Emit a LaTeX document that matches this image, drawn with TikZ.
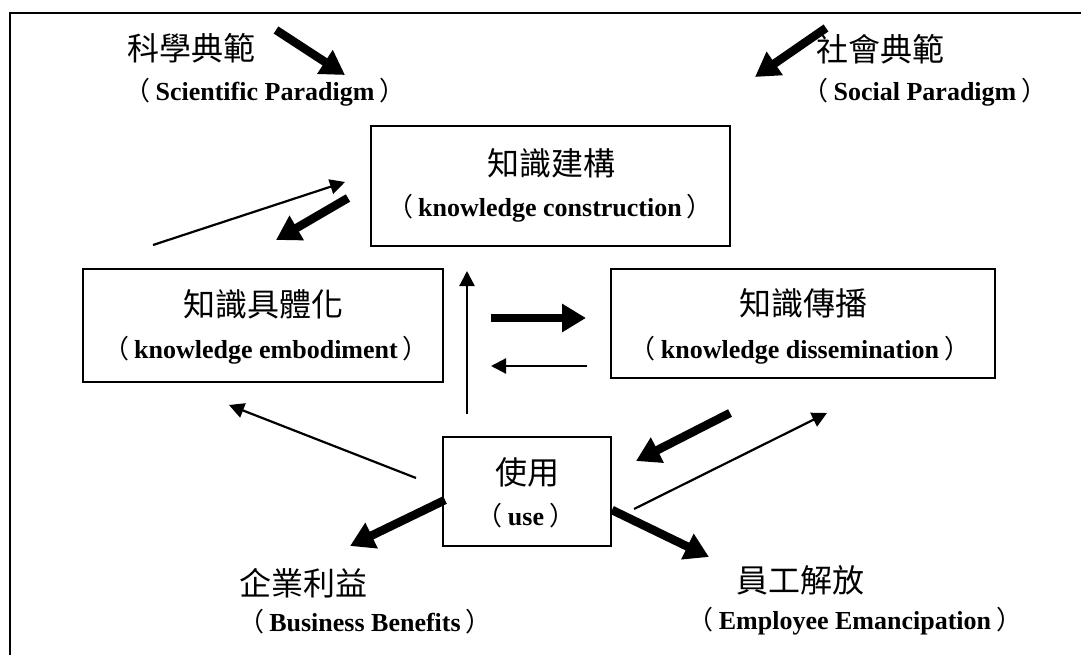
\documentclass[tikz,border=0pt]{standalone}
\usepackage{fontspec}
\setmainfont{Liberation Serif}
\newfontfamily\cjk{Noto Sans CJK TC}
\usetikzlibrary{arrows.meta}

% full-width brackets set in the CJK face, regular weight, with a little air
\newcommand\zlp{{\cjk\mdseries （}\hspace{5pt}}
\newcommand\zrp{\hspace{5pt}{\cjk\mdseries ）}}

\tikzset{
  frameline/.style={line width=1.8pt},
  box/.style={draw, line width=1.8pt, inner sep=0pt},
  zh/.style={anchor=base, inner sep=0pt, font=\cjk\fontsize{32}{38}\selectfont},
  en/.style={anchor=base, inner sep=0pt, font=\fontsize{26}{31}\selectfont\bfseries},
  thinarrow/.style={line width=2.2pt, -{Triangle[length=15pt,width=15pt]}},
  thickarrow/.style={line width=8.5pt, -{Triangle[length=24pt,width=27pt]}},
}

\begin{document}
\begin{tikzpicture}[x=1pt, y=-1pt]
\useasboundingbox (0,0) rectangle (1081,655);
\fill[white] (0,0) rectangle (1081,655);

% outer frame (continues past the right and bottom edges)
\draw[frameline] (1090,13) -- (10,13) -- (10,665);

% paradigm labels
\node[zh] (sciz) at (191,61) {科學典範};
\node[en] (scie) at (265,101) {\zlp Scientific Paradigm\zrp};
\node[zh] (socz) at (880,62) {社會典範};
\node[en] (soce) at (925,101) {\zlp Social Paradigm\zrp};

% knowledge construction
\node[box, minimum width=359pt, minimum height=120pt] (kc) at (550.5,186) {};
\node[zh] (kcz) at (551,176) {知識建構};
\node[en] (kce) at (550,216) {\zlp knowledge construction\zrp};

% knowledge embodiment
\node[box, minimum width=360pt, minimum height=113pt] (ke) at (263,325.5) {};
\node[zh] (kez) at (263,316) {知識具體化};
\node[en] (kee) at (266,358) {\zlp knowledge embodiment\zrp};

% knowledge dissemination
\node[box, minimum width=384pt, minimum height=109pt] (kd) at (803,323.5) {};
\node[zh] (kdz) at (803,315) {知識傳播};
\node[en] (kde) at (800,358) {\zlp knowledge dissemination\zrp};

% use
\node[box, minimum width=168pt, minimum height=109pt] (use) at (527,491.5) {};
\node[zh] (usez) at (527,484) {使用};
\node[en] (usee) at (526,525) {\zlp use\zrp};

% outcomes
\node[zh] (bizz) at (303,595) {企業利益};
\node[en] (bize) at (365,631) {\zlp Business Benefits\zrp};
\node[zh] (empz) at (800,592) {員工解放};
\node[en] (empe) at (855,629) {\zlp Employee Emancipation\zrp};

% arrow end points
\coordinate (sciA) at (276,30);   \coordinate (sciB) at (345,75);
\coordinate (socA) at (826,28);   \coordinate (socB) at (755,77);
\coordinate (ekA) at (153,245);   \coordinate (ekB) at (345,182);
\coordinate (keA) at (348,198);   \coordinate (keB) at (276,240);
\coordinate (edA) at (491,318);   \coordinate (edB) at (586,318);
\coordinate (deA) at (587,366);   \coordinate (deB) at (491,366);
\coordinate (ucA) at (467,414);   \coordinate (ucB) at (467,271);
\coordinate (duA) at (730,413);   \coordinate (duB) at (636,461);
\coordinate (udA) at (634,509);   \coordinate (udB) at (827,413);
\coordinate (ueA) at (416,478);   \coordinate (ueB) at (229,405);
\coordinate (ubA) at (445,500);   \coordinate (ubB) at (350,546);
\coordinate (umA) at (612,510);   \coordinate (umB) at (709,557);

\draw[thickarrow] (sciA) -- (sciB);
\draw[thickarrow] (socA) -- (socB);
\draw[thinarrow]  (ekA) -- (ekB);
\draw[thickarrow] (keA) -- (keB);
\draw[thickarrow] (edA) -- (edB);
\draw[thinarrow]  (deA) -- (deB);
\draw[thinarrow]  (ucA) -- (ucB);
\draw[thickarrow] (duA) -- (duB);
\draw[thinarrow]  (udA) -- (udB);
\draw[thinarrow]  (ueA) -- (ueB);
\draw[thickarrow] (ubA) -- (ubB);
\draw[thickarrow] (umA) -- (umB);
\end{tikzpicture}
\end{document}
